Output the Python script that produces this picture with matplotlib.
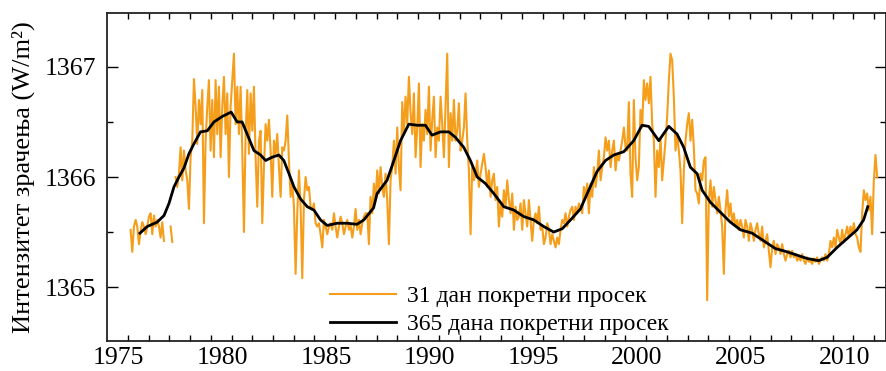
import numpy as np
import matplotlib
matplotlib.use('Agg')
import matplotlib.pyplot as plt
from matplotlib.ticker import FixedLocator

plt.rcParams['font.family'] = ['Liberation Serif', 'DejaVu Serif']

nan = np.nan
# ### 31 day running mean, one value every ~29 days, split by solar cycle
step31 = 0.0804
start21 = 1975.579
cyc21 = [1365.52, 1365.32, 1365.55, 1365.61, 1365.55, 1365.39, 1365.50, 1365.59, 1365.55, 1365.48,
         1365.55, 1365.64, 1365.67, 1365.48, 1365.65, 1365.55, 1365.61, 1365.55, 1365.45, 1365.59,
         1365.42, nan, nan, nan, 1365.55, 1365.41, nan, 1366.00, 1365.91, 1366.03,
         1366.27, 1365.97, 1366.24, 1366.06, 1365.97, 1365.71, 1366.18, 1366.33, 1366.89, 1366.64,
         1366.30, 1366.70, 1366.48, 1366.79, 1365.58, 1366.33, 1366.64, 1366.88, 1366.24, 1366.70,
         1366.18, 1366.88, 1366.39, 1366.82, 1366.18, 1366.64, 1366.91, 1366.39, 1366.76, 1366.00,
         1366.64, 1366.88, 1367.12, 1366.48, 1366.82, 1366.39, 1366.82, 1366.24, 1365.50, 1366.39,
         1366.79, 1366.21, 1366.76, 1366.42, 1366.82, 1366.18, 1365.73, 1366.33, 1366.42, 1365.58,
         1366.09, 1366.48, 1366.33, 1366.52, 1366.24, 1365.82, 1366.33, 1366.21, 1366.39, 1366.09,
         1365.82, 1366.27, 1366.24, 1366.33, 1366.56, 1366.15, 1365.82, 1365.94, 1365.73, 1365.12,
         1365.67, 1366.06, 1365.73, 1365.08, 1365.79, 1366.00, 1365.88, 1365.91, 1365.73, 1365.70,
         1365.76, 1365.58, 1365.55, 1365.58, 1365.48, 1365.36, 1365.61, 1365.55, 1365.48, 1365.55,
         1365.58, 1365.52, 1365.67, 1365.55, 1365.45, 1365.55, 1365.64, 1365.58, 1365.48, 1365.55,
         1365.61, 1365.52, 1365.56, 1365.45, 1365.55, 1365.71, 1365.52, 1365.61, 1365.48, 1365.58,
         1365.64, 1365.67]
start22 = 1986.994
cyc22 = [1365.67, 1365.39, 1365.82, 1365.67, 1365.94, 1365.79, 1366.06, 1365.85, 1366.09, 1365.91,
         1365.82, 1366.03, 1365.79, 1365.39, 1365.97, 1366.09, 1366.33, 1366.03, 1366.45, 1366.09,
         1365.88, 1366.68, 1366.39, 1366.73, 1366.48, 1366.91, 1366.58, 1366.39, 1366.76, 1366.18,
         1366.45, 1366.85, 1366.09, 1366.48, 1366.33, 1366.61, 1366.39, 1366.82, 1366.24, 1366.52,
         1366.73, 1366.18, 1366.45, 1366.33, 1366.73, 1366.48, 1366.18, 1366.64, 1367.12, 1366.09,
         1366.58, 1366.33, 1366.70, 1366.33, 1366.42, 1366.67, 1366.24, 1366.33, 1366.45, 1366.76,
         1366.33, 1366.06, 1365.48, 1366.09, 1365.97, 1366.03, 1366.15, 1365.91, 1366.03, 1366.12,
         1366.21, 1366.09, 1365.91, 1366.06, 1365.82, 1365.97, 1366.03, 1365.79, 1365.91, 1365.55,
         1365.76, 1365.64, 1365.88, 1365.73, 1365.97, 1365.79, 1365.67, 1365.85, 1365.52, 1365.73,
         1365.61, 1365.64, 1365.76, 1365.52, 1365.79, 1365.67, 1365.55, 1365.79, 1365.61, 1365.42,
         1365.61, 1365.67, 1365.58, 1365.73, 1365.52, 1365.55, 1365.39, 1365.45, 1365.58, 1365.52,
         1365.39, 1365.48, 1365.42, 1365.36, 1365.45, 1365.39, 1365.52, 1365.61, 1365.58, 1365.67,
         1365.55, 1365.64, 1365.70, 1365.73, 1365.61, 1365.73, 1365.67, 1365.76, 1365.73, 1365.67,
         1365.91, 1365.82, 1365.94, 1365.67, 1365.94, 1365.82, 1366.09, 1365.91, 1366.03, 1366.24,
         1365.97, 1366.09, 1366.18, 1366.36, 1366.24, 1366.33, 1366.09, 1366.24, 1366.33, 1366.06,
         1366.21, 1366.15, 1366.24, 1366.33, 1366.45, 1366.27]
start23 = 1999.534
cyc23 = [1366.24, 1366.68, 1366.03, 1365.82, 1366.70, 1366.18, 1365.97, 1366.09, 1366.61, 1366.45,
         1366.88, 1366.70, 1366.85, 1366.67, 1366.91, 1366.48, 1366.33, 1365.82, 1366.24, 1366.09,
         1366.36, 1365.97, 1366.15, 1366.33, 1366.55, 1366.88, 1367.12, 1367.06, 1366.73, 1366.24,
         1366.39, 1366.24, 1366.06, 1365.58, 1366.06, 1366.33, 1366.48, 1366.58, 1366.33, 1366.52,
         1366.27, 1365.88, 1365.85, 1365.76, 1366.03, 1365.97, 1366.15, 1366.18, 1364.88, 1365.79,
         1365.97, 1365.73, 1365.91, 1365.79, 1365.67, 1365.82, 1365.70, 1365.55, 1365.12, 1365.70,
         1365.88, 1365.64, 1365.76, 1365.58, 1365.67, 1365.55, 1365.61, 1365.52, 1365.61, 1365.55,
         1365.45, 1365.61, 1365.55, 1365.42, 1365.58, 1365.52, 1365.42, 1365.52, 1365.58, 1365.48,
         1365.42, 1365.55, 1365.36, 1365.42, 1365.48, 1365.33, 1365.18, 1365.36, 1365.42, 1365.30,
         1365.39, 1365.36, 1365.30, 1365.39, 1365.30, 1365.24, 1365.30, 1365.33, 1365.27, 1365.33,
         1365.27, 1365.30, 1365.24, 1365.27, 1365.24, 1365.30, 1365.24, 1365.21, 1365.27, 1365.23,
         1365.24, 1365.21, 1365.26, 1365.23, 1365.27, 1365.21, 1365.24, 1365.27, 1365.24, 1365.30,
         1365.24, 1365.30, 1365.42, 1365.36, 1365.45, 1365.36, 1365.52, 1365.45, 1365.39, 1365.52,
         1365.42, 1365.48, 1365.55, 1365.45, 1365.55, 1365.48, 1365.58, 1365.48, 1365.45, 1365.36,
         1365.32, 1365.67, 1365.88, 1365.79, 1365.85, 1365.70, 1365.82, 1365.48, 1365.97, 1366.20,
         1366.00]

# ### 365 day running mean
yr365 = [1976.03, 1976.38, 1976.86, 1977.19, 1977.43, 1977.67, 1977.91, 1978.15, 1978.39, 1978.63,
         1978.95, 1979.28, 1979.60, 1980.00, 1980.43, 1980.72, 1980.96, 1981.20, 1981.53, 1981.85,
         1982.09, 1982.41, 1982.73, 1982.97, 1983.22, 1983.46, 1983.78, 1984.10, 1984.42, 1984.74,
         1985.06, 1985.55, 1986.03, 1986.50, 1986.83,
         1987.30, 1987.47, 1987.95, 1988.28, 1988.60, 1989.00, 1989.40, 1989.80, 1990.12, 1990.53,
         1990.93, 1991.25, 1991.65, 1991.97, 1992.30, 1992.70, 1993.10, 1993.58, 1994.06, 1994.55,
         1995.03, 1995.51, 1995.99, 1996.40, 1996.80, 1997.28, 1997.68, 1998.08, 1998.49, 1998.89,
         1999.37, 1999.85, 2000.25, 2000.57, 2001.06, 2001.54, 2001.94, 2002.26, 2002.58, 2002.91,
         2003.15, 2003.55, 2004.03, 2004.51, 2005.00, 2005.56, 2006.12, 2006.68, 2007.25, 2007.73,
         2008.21, 2008.77, 2009.18, 2009.66, 2010.14, 2010.62, 2010.94, 2011.14]
val365 = [1365.49, 1365.55, 1365.59, 1365.65, 1365.76, 1365.91, 1366.00, 1366.08, 1366.21, 1366.30,
          1366.41, 1366.42, 1366.50, 1366.55, 1366.59, 1366.50, 1366.50, 1366.39, 1366.24, 1366.20,
          1366.15, 1366.18, 1366.20, 1366.15, 1366.03, 1365.91, 1365.80, 1365.73, 1365.70, 1365.61,
          1365.56, 1365.58, 1365.58, 1365.57, 1365.61,
          1365.72, 1365.85, 1365.97, 1366.15, 1366.33, 1366.48, 1366.47, 1366.47, 1366.38, 1366.41,
          1366.41, 1366.36, 1366.27, 1366.15, 1366.00, 1365.94, 1365.85, 1365.73, 1365.70, 1365.64,
          1365.61, 1365.55, 1365.50, 1365.53, 1365.61, 1365.71, 1365.88, 1366.05, 1366.15, 1366.20,
          1366.23, 1366.33, 1366.47, 1366.46, 1366.33, 1366.46, 1366.39, 1366.27, 1366.09, 1366.03,
          1365.88, 1365.77, 1365.68, 1365.59, 1365.52, 1365.49, 1365.42, 1365.35, 1365.32, 1365.29,
          1365.26, 1365.24, 1365.27, 1365.36, 1365.44, 1365.52, 1365.61, 1365.73]

lab31 = '31 дан покретни просек'
lab365 = '365 дана покретни просек'
ylab = 'Интензитет зрачења (W/m²)'
xlabels = [1975, 1980, 1985, 1990, 1995, 2000, 2005, 2010]

def times(start, vals):
    return start + step31*np.arange(len(vals))

t31 = np.concatenate([times(start21, cyc21), times(start22, cyc22), times(start23, cyc23)])
v31 = np.concatenate([cyc21, cyc22, cyc23])

fig = plt.figure(figsize=(8.86, 3.71), dpi=100)
ax = fig.add_axes([107/886, 1-341/371, 779/886, 328/371])
ax.plot(t31, v31, color='#F59E1B', lw=1.5, label=lab31)
ax.plot(yr365, val365, color='black', lw=2.0, label=lab365)

ax.set_xlim(1974.44, 2012.02)
ax.set_ylim(1364.51, 1367.49)

# year labels without marks, small marks between them
ax.set_xticks(xlabels)
ax.xaxis.set_minor_locator(FixedLocator(np.arange(1975.45, 2012, 1.0)))
ax.tick_params(axis='x', which='major', length=0, pad=4, labelsize=18.5)
ax.tick_params(axis='x', which='minor', length=4, width=1, direction='in', top=True, bottom=True)
ax.set_yticks([1365, 1366, 1367])
ax.yaxis.set_minor_locator(FixedLocator([1365.5, 1366.5]))
ax.tick_params(axis='y', which='major', length=8, width=1, direction='in', right=True, pad=8, labelsize=18.5)
ax.tick_params(axis='y', which='minor', length=4, width=1, direction='in', right=True)
for s in ax.spines.values():
    s.set_linewidth(1.3)
    s.set_color('#222222')

ax.set_ylabel(ylab, fontsize=19, labelpad=7)
ax.legend(loc='lower left', bbox_to_anchor=(0.268, -0.025), frameon=False, fontsize=17,
          handlelength=2.8, handletextpad=0.45, labelspacing=0.28, borderaxespad=0.2)

fig.savefig('out.png', dpi=100)
